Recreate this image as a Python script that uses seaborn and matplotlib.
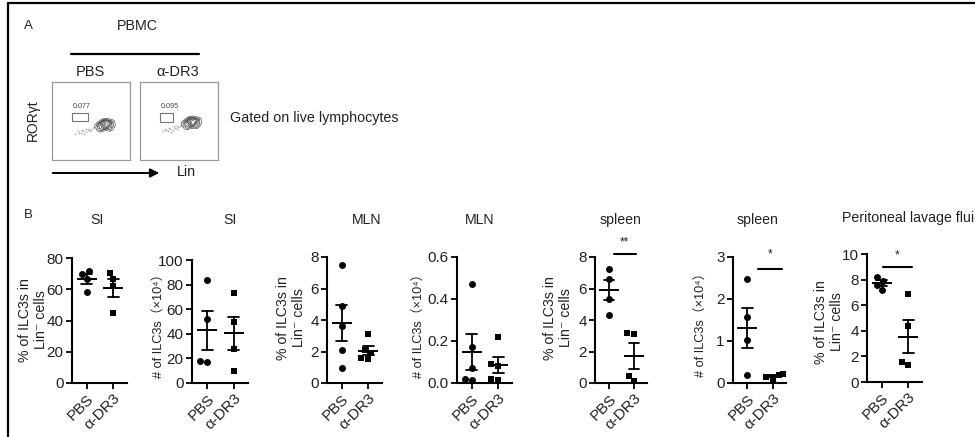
import numpy as np
import pandas as pd
import matplotlib
matplotlib.use("Agg")
import matplotlib.pyplot as plt
from matplotlib.lines import Line2D
from matplotlib.patches import FancyArrowPatch
import seaborn as sns

# ---------------- data ----------------
groups = ["PBS", "α-DR3"]

si_pct_pbs = [72, 70, 66.5, 58]
si_pct_dr3 = [70.4, 66.5, 62, 44.6]
si_num_pbs = [84, 52, 17, 18]
si_num_dr3 = [73, 50, 28, 10]
mln_pct_pbs = [7.5, 4.9, 3.6, 2.1, 0.95]
mln_pct_dr3 = [3.1, 2.1, 1.9, 1.6, 1.5]
mln_num_pbs = [0.47, 0.17, 0.07, 0.02, 0.015]
mln_num_dr3 = [0.22, 0.09, 0.08, 0.02, 0.015]
spl_pct_pbs = [7.26, 6.62, 5.35, 4.34]
spl_pct_dr3 = [3.2, 3.1, 0.45, 0.15]
spl_num_pbs = [2.48, 1.57, 1.02, 0.18]
spl_num_dr3 = [0.22, 0.18, 0.15, 0.10]
plf_pct_pbs = [8.2, 7.9, 7.6, 7.2]
plf_pct_dr3 = [6.9, 4.4, 1.6, 1.3]

titles = ["SI", "SI", "MLN", "MLN", "spleen", "spleen", "Peritoneal lavage fluid"]
pct_label = "% of ILC3s in\nLin⁻ cells"
num_label = "# of ILC3s（×10⁴）"
ylabels = [pct_label, num_label, pct_label, num_label, pct_label, num_label, pct_label]
yticks = [[0, 20, 40, 60, 80], [0, 20, 40, 60, 80, 100], [0, 2, 4, 6, 8],
          [0.0, 0.2, 0.4, 0.6], [0, 2, 4, 6, 8], [0, 1, 2, 3], [0, 2, 4, 6, 8, 10]]
ytick_fmt = ["{:.0f}", "{:.0f}", "{:.0f}", "{:.1f}", "{:.0f}", "{:.0f}", "{:.0f}"]
signif = [None, None, None, None, "**", "*", "*"]

# flow cytometry panel A: gate frequencies and approximate cell events
gate_freq = ["0.077", "0.095"]
pbs_core_x = [0.58, 0.62, 0.66, 0.70, 0.74, 0.78, 0.60, 0.64, 0.68, 0.72, 0.76, 0.62,
              0.66, 0.70, 0.74, 0.65, 0.69, 0.73, 0.61, 0.77, 0.68, 0.71]
pbs_core_y = [0.44, 0.47, 0.49, 0.48, 0.47, 0.45, 0.41, 0.43, 0.45, 0.44, 0.42, 0.38,
              0.40, 0.41, 0.39, 0.50, 0.51, 0.50, 0.46, 0.49, 0.43, 0.46]
pbs_tail_x = [0.30, 0.34, 0.37, 0.40, 0.43, 0.46, 0.48, 0.50, 0.52, 0.54, 0.38, 0.44,
              0.49, 0.33, 0.41, 0.56]
pbs_tail_y = [0.33, 0.35, 0.34, 0.37, 0.36, 0.38, 0.40, 0.39, 0.41, 0.42, 0.38, 0.40,
              0.37, 0.37, 0.33, 0.40]
dr3_core_x = [0.56, 0.60, 0.64, 0.68, 0.72, 0.76, 0.58, 0.62, 0.66, 0.70, 0.74, 0.60,
              0.64, 0.68, 0.72, 0.63, 0.67, 0.71, 0.59, 0.75, 0.66, 0.69]
dr3_core_y = [0.47, 0.50, 0.52, 0.51, 0.50, 0.48, 0.44, 0.46, 0.48, 0.47, 0.45, 0.41,
              0.43, 0.44, 0.42, 0.53, 0.54, 0.53, 0.49, 0.52, 0.46, 0.49]
dr3_tail_x = [0.30, 0.33, 0.36, 0.39, 0.42, 0.45, 0.47, 0.49, 0.51, 0.53, 0.37, 0.43,
              0.48, 0.32, 0.40, 0.55]
dr3_tail_y = [0.37, 0.38, 0.37, 0.40, 0.39, 0.41, 0.43, 0.42, 0.44, 0.45, 0.41, 0.43,
              0.40, 0.40, 0.36, 0.43]

panels = [(si_pct_pbs, si_pct_dr3), (si_num_pbs, si_num_dr3),
          (mln_pct_pbs, mln_pct_dr3), (mln_num_pbs, mln_num_dr3),
          (spl_pct_pbs, spl_pct_dr3), (spl_num_pbs, spl_num_dr3),
          (plf_pct_pbs, plf_pct_dr3)]

# ---------------- style ----------------
sns.set_style("ticks")
plt.rcParams["font.family"] = ["Liberation Sans", "Noto Sans CJK SC", "DejaVu Sans"]
TXT = "#222222"

W, H = 975, 437
fig = plt.figure(figsize=(W / 100, H / 100), dpi=100)


def fx(x):
    return x / W


def fy(y):
    return 1 - y / H


def ftext(x, y, s, **kw):
    kw.setdefault("color", TXT)
    fig.text(fx(x), fy(y), s, **kw)


# frame lines
fig.add_artist(Line2D([fx(8), 1], [fy(3), fy(3)], color="black", lw=1.6))
fig.add_artist(Line2D([fx(8), fx(8)], [fy(3), 0], color="black", lw=1.6))

# ---------------- panel A ----------------
ftext(28, 26, "A", fontsize=9.5, ha="center", va="center")
ftext(137, 26, "PBMC", fontsize=10.3, ha="center", va="center")
fig.add_artist(Line2D([fx(71), fx(199)], [fy(54), fy(54)], color="black", lw=1.6))
ftext(90, 72, "PBS", fontsize=10.5, ha="center", va="center")
ftext(178, 72, "α-DR3", fontsize=10.5, ha="center", va="center")
ftext(33, 120, "RORγt", fontsize=10, ha="center", va="center", rotation=90)
ftext(230, 118, "Gated on live lymphocytes", fontsize=10.3, ha="left", va="center")
ftext(186, 172, "Lin", fontsize=10.3, ha="center", va="center")
fig.add_artist(FancyArrowPatch((fx(50), fy(173)), (fx(162), fy(173)),
                               transform=fig.transFigure, arrowstyle="-|>",
                               color="black", lw=1.4, mutation_scale=13))

flow_boxes = [(52, 82, 130, 160), (140, 82, 218, 160)]
flow_core = [(pbs_core_x, pbs_core_y), (dr3_core_x, dr3_core_y)]
flow_tail = [(pbs_tail_x, pbs_tail_y), (dr3_tail_x, dr3_tail_y)]
gates = [(0.26, 0.50, 0.20, 0.10), (0.26, 0.49, 0.16, 0.11)]
for (l, t, r, b), (cx, cy), (tx_, ty_), freq, (gx, gy, gw, gh) in zip(
        flow_boxes, flow_core, flow_tail, gate_freq, gates):
    fax = fig.add_axes([fx(l), fy(b), fx(r - l), (b - t) / H])
    fax.scatter(tx_, ty_, s=1.8, color="#b5b5b5", linewidths=0)
    fax.scatter(cx, cy, s=1.5, color="#999999", linewidths=0)
    sns.kdeplot(x=cx, y=cy, ax=fax, levels=7, thresh=0.08, bw_adjust=0.8,
                color="#444444", linewidths=0.45)
    fax.set_xlim(0, 1)
    fax.set_ylim(0, 1)
    fax.set_xticks([])
    fax.set_yticks([])
    fax.set_xlabel("")
    fax.set_ylabel("")
    for s in fax.spines.values():
        s.set_visible(True)
        s.set_color("#9a9a9a")
        s.set_linewidth(0.9)
    fax.add_patch(plt.Rectangle((gx, gy), gw, gh, fill=False, ec="#777777", lw=0.8))
    fax.text(gx, gy + gh + 0.04, freq, fontsize=5.2, color="#444444", ha="left", va="bottom")

# ---------------- panel B ----------------
ftext(28, 215, "B", fontsize=9.5, ha="center", va="center")

axes_px = [(72, 258, 127, 383), (192, 260, 248, 383), (327, 257, 382, 383),
           (457, 257, 512, 383), (595, 257, 647, 383), (733, 257, 786, 383),
           (867, 254, 922, 382)]
title_px = [(97, 220, "center"), (230, 220, "center"), (367, 220, "center"),
            (480, 220, "center"), (620, 220, "center"), (757, 220, "center"),
            (842, 218, "left")]
ylabel_px = [(33, 320), (160, 323), (291, 318), (420, 323), (558, 318), (702, 322), (829, 322)]
ylabel_fs = [10.2, 9.2, 10.2, 9.2, 10.2, 9.2, 10.2]
sig_bar = {4: (0.18, 1.07, 8.19, 8.95), 5: (0.42, 1.38, 2.71, 3.05), 6: (0.04, 1.15, 8.98, 9.9)}

markers = {"PBS": "o", "α-DR3": "s"}

for i, ((pbs, dr3), (l, t, r, b)) in enumerate(zip(panels, axes_px)):
    ax = fig.add_axes([fx(l), fy(b), fx(r - l), (b - t) / H])
    df = pd.DataFrame({"group": ["PBS"] * len(pbs) + ["α-DR3"] * len(dr3),
                       "value": list(pbs) + list(dr3)})
    for g in groups:
        sns.swarmplot(data=df[df.group == g], x="group", y="value", order=groups,
                      marker=markers[g], color="black", size=5.0, ax=ax, zorder=3)
    sns.pointplot(data=df, x="group", y="value", order=groups, errorbar="se",
                  capsize=0.42, linestyle="none", marker="_", markersize=15,
                  markeredgewidth=1.4, color="black", err_kws={"linewidth": 1.3},
                  ax=ax, zorder=4)
    ax.set_xlim(-0.57, 1.53)
    ax.set_ylim(yticks[i][0], yticks[i][-1])
    ax.set_yticks(yticks[i])
    ax.set_yticklabels([ytick_fmt[i].format(v) for v in yticks[i]], fontsize=11, color=TXT)
    ax.set_xticks([0, 1])
    ax.set_xticklabels(groups, rotation=45, ha="right", rotation_mode="anchor",
                       fontsize=11, color=TXT)
    ax.set_xlabel("")
    ax.set_ylabel("")
    for s in ["top", "right"]:
        ax.spines[s].set_visible(False)
    for s in ["left", "bottom"]:
        ax.spines[s].set_linewidth(1.5)
        ax.spines[s].set_color("black")
    ax.tick_params(axis="both", direction="out", length=4, width=1.3, color="black", pad=2)
    ax.patch.set_alpha(0)

    tx, ty, tha = title_px[i]
    ftext(tx, ty, titles[i], fontsize=10.2, ha=tha, va="center")
    lx, ly = ylabel_px[i]
    ftext(lx, ly, ylabels[i], fontsize=ylabel_fs[i], ha="center", va="center", rotation=90,
          multialignment="center", linespacing=1.1)

    if signif[i]:
        x0, x1, yb, ys = sig_bar[i]
        ax.plot([x0, x1], [yb, yb], color="black", lw=1.5, clip_on=False)
        ax.text((x0 + x1) / 2, ys, signif[i], ha="center", va="center",
                fontsize=8.5, color=TXT, clip_on=False)

fig.savefig("out.png", dpi=100)
